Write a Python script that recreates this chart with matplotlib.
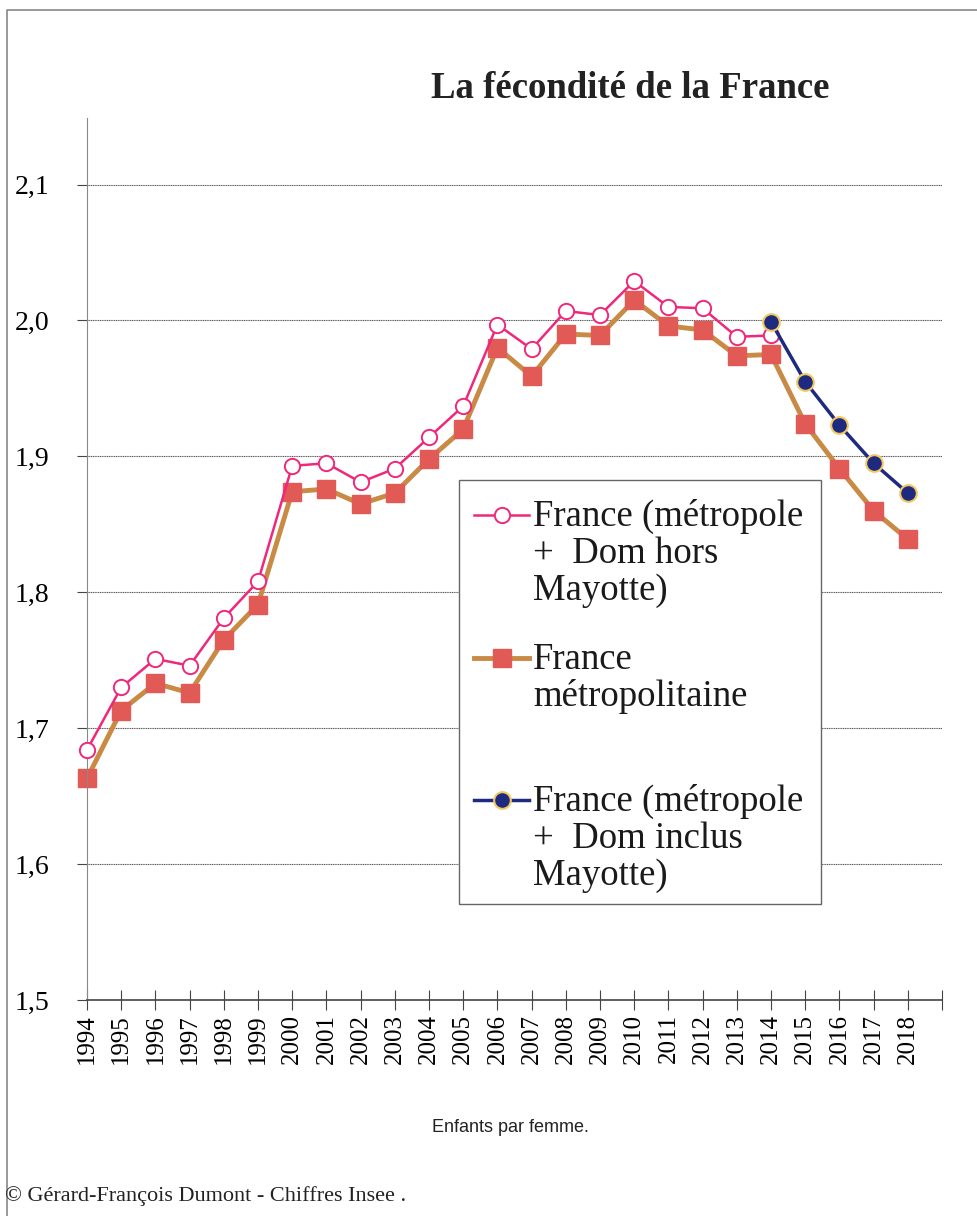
import numpy as np
import matplotlib.pyplot as plt
from matplotlib.lines import Line2D

plt.rcParams['font.family'] = ['Liberation Serif', 'DejaVu Serif']

# Data (indice conjoncturel de fécondité, enfants par femme)
years = list(range(1994, 2019))
france_hors_mayotte = [1.684, 1.730, 1.751, 1.746, 1.781, 1.808, 1.893, 1.895, 1.881, 1.891,
                       1.914, 1.937, 1.997, 1.979, 2.007, 2.004, 2.029, 2.010, 2.009, 1.988,
                       1.989]
france_metro = [1.663, 1.713, 1.733, 1.726, 1.765, 1.791, 1.874, 1.876, 1.865, 1.873,
                1.898, 1.920, 1.980, 1.959, 1.990, 1.989, 2.015, 1.996, 1.993, 1.974,
                1.975, 1.924, 1.891, 1.860, 1.839]
years_mayotte = [2014, 2015, 2016, 2017, 2018]
france_avec_mayotte = [1.999, 1.955, 1.923, 1.895, 1.873]

yticks = [1.5, 1.6, 1.7, 1.8, 1.9, 2.0, 2.1]
ytick_labels = ['1,5', '1,6', '1,7', '1,8', '1,9', '2,0', '2,1']

labels = ["France (métropole\n+  Dom hors\nMayotte)",
          "France\nmétropolitaine",
          "France (métropole\n+  Dom inclus\nMayotte)"]

# Colors
pink = '#F0287A'
brown = '#C88A44'
salmon = '#E25A55'
navy = '#1E2A80'
gold = '#F2C860'

fig = plt.figure(figsize=(9.78, 12.16), dpi=100)
ax = fig.add_axes([87 / 978, 1 - 1000 / 1216, 855 / 978, 882 / 1216])

ax.plot(years[:len(france_hors_mayotte)], france_hors_mayotte, color=pink, lw=1.8,
        marker='o', ms=11, mfc='white', mec=pink, mew=1.4, zorder=3, clip_on=False)
ax.plot(years, france_metro, color=brown, lw=3.5,
        marker='s', ms=13, mfc=salmon, mec=salmon, mew=1, zorder=2, clip_on=False)
ax.plot(years_mayotte, france_avec_mayotte, color=navy, lw=2.5,
        marker='o', ms=12, mfc=navy, mec=gold, mew=1.5, zorder=4, clip_on=False)

ax.set_xlim(1994, 2019)
ax.set_ylim(1.5, 2.149)

ax.set_yticks(yticks)
ax.set_yticklabels(ytick_labels, fontsize=20)
ax.set_xticks(years + [2019])
ax.set_xticklabels([str(y) for y in years] + [''], rotation=90, fontsize=18)
ax.tick_params(axis='x', direction='inout', length=14, width=0.8, color='#444444', pad=3)
ax.tick_params(axis='y', direction='out', length=7, width=0.8, color='#444444', pad=20)

ax.grid(axis='y', color='#555555', lw=0.8, linestyle=(0, (1, 0.6)))
ax.set_axisbelow(True)
for side in ['top', 'right']:
    ax.spines[side].set_visible(False)
ax.spines['left'].set_color('#888888')
ax.spines['left'].set_linewidth(0.8)
ax.spines['bottom'].set_color('#444444')
ax.spines['bottom'].set_linewidth(1.2)


# Legend drawn by hand (handle next to first line of each label)
def fx(px):
    return px / 978


def fy(py):
    return 1 - py / 1216


fig.patches.append(plt.Rectangle((fx(459), fy(904)), fx(821) - fx(459), fy(480) - fy(904),
                                 transform=fig.transFigure, fill=True, facecolor='white',
                                 edgecolor='#666666', lw=1.0, zorder=5))
legend_styles = [
    dict(color=pink, lw=1.8, marker='o', ms=11, mfc='white', mec=pink, mew=1.4),
    dict(color=brown, lw=3.5, marker='s', ms=13, mfc=salmon, mec=salmon, mew=1),
    dict(color=navy, lw=2.5, marker='o', ms=12, mfc=navy, mec=gold, mew=1.5),
]
entry_y = [515, 658, 800]
line_step = 37
for style, lab, py in zip(legend_styles, labels, entry_y):
    fig.add_artist(Line2D([fx(474), fx(529)], [fy(py), fy(py)], transform=fig.transFigure,
                          color=style['color'], lw=style['lw'], zorder=6))
    fig.add_artist(Line2D([fx(502)], [fy(py)], transform=fig.transFigure, zorder=7,
                          linestyle='none',
                          **{k: v for k, v in style.items() if k not in ('color', 'lw')}))
    for i, line in enumerate(lab.split('\n')):
        fig.text(fx(533), fy(py + 11 + i * line_step), line, fontsize=26.5, va='baseline',
                 ha='left', color='#1a1a1a', zorder=8)

fig.text(fx(630), fy(88), 'La fécondité de la France', fontsize=26.5, fontweight='bold',
         ha='center', va='center', color='#222222')
fig.text(fx(510), fy(1127), 'Enfants par femme.', fontsize=13, ha='center', va='center',
         family=['Liberation Sans', 'DejaVu Sans'], color='#222222')
fig.text(fx(5), fy(1196), '© Gérard-François Dumont - Chiffres Insee .', fontsize=16,
         ha='left', va='center', color='#222222')

# page frame
fig.add_artist(Line2D([fx(7), fx(7), 1.0], [0.0, fy(10), fy(10)], transform=fig.transFigure,
                      color='#888888', lw=1.2))

fig.savefig('out.png', dpi=100)
